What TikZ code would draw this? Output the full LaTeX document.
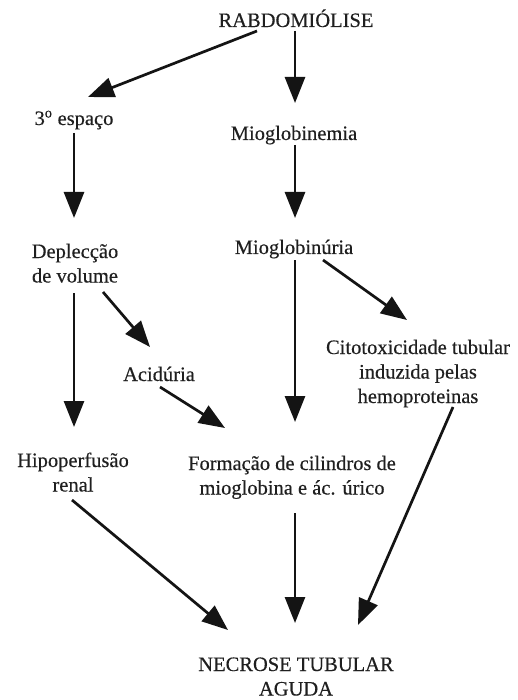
\documentclass[tikz,border=0pt]{standalone}
\usepackage{fontspec}
\setmainfont{Liberation Serif}[FakeBold=0.35]
\usetikzlibrary{arrows.meta}
\begin{document}
\begin{tikzpicture}[x=1pt,y=-1pt,
  lbl/.style={inner sep=0pt, outer sep=0pt, anchor=base, align=center, text=black!88,
    font=\fontsize{20.5}{24.5}\selectfont},
  arr/.style={line width=2.7pt, draw=black!92, -{Triangle[length=26pt,width=20pt]}}]
\useasboundingbox[fill=white] (0,0) rectangle (518,700);
\node[lbl] (rab) at (296,27) {RABDOMIÓLISE};
\node[lbl] (esp) at (74,125) {3\textsuperscript{o} espaço};
\node[lbl] (mgn) at (294,140) {Mioglobinemia};
\node[lbl] (dep) at (75,282.5) {Deplecção\\de volume};
\node[lbl] (mgu) at (294,254) {Mioglobinúria};
\node[lbl] (aci) at (159,381) {Acidúria};
\node[lbl] (cit) at (418,403) {Citotoxicidade tubular\\induzida pelas\\hemoproteinas};
\node[lbl] (hip) at (73,491.5) {Hipoperfusão\\renal};
\node[lbl] (for) at (292,494.5) {Formação de cilindros de\\mioglobina e ác. úrico};
\node[lbl] (nec) at (296,695.5) {NECROSE TUBULAR\\AGUDA};
\draw[arr] ([shift={(-39,4)}]rab.base) -- ([shift={(14,-28)}]esp.base);
\draw[arr] ([shift={(-1,4)}]rab.base) -- ([shift={(1,-37)}]mgn.base);
\draw[arr] ([shift={(1,5)}]mgn.base) -- ([shift={(1,-36)}]mgu.base);
\draw[arr] ([shift={(0,8)}]esp.base) -- ([shift={(-1,-64.5)}]dep.base);
\draw[arr] ([shift={(-1,10.5)}]dep.base) -- ([shift={(1,-64.5)}]hip.base);
\draw[arr] ([shift={(28,9.5)}]dep.base) -- ([shift={(-9,-34)}]aci.base);
\draw[arr] ([shift={(1,6)}]aci.base) -- ([shift={(-67,-66.5)}]for.base);
\draw[arr] ([shift={(1,6)}]mgu.base) -- ([shift={(3,-72.5)}]for.base);
\draw[arr] ([shift={(29,6)}]mgu.base) -- ([shift={(-11,-83)}]cit.base);
\draw[arr] ([shift={(-1,8.5)}]hip.base) -- ([shift={(-68,-65.5)}]nec.base);
\draw[arr] ([shift={(3,18.5)}]for.base) -- ([shift={(-1,-72.5)}]nec.base);
\draw[arr] ([shift={(35,4)}]cit.base) -- ([shift={(62,-70.5)}]nec.base);
\end{tikzpicture}
\end{document}
